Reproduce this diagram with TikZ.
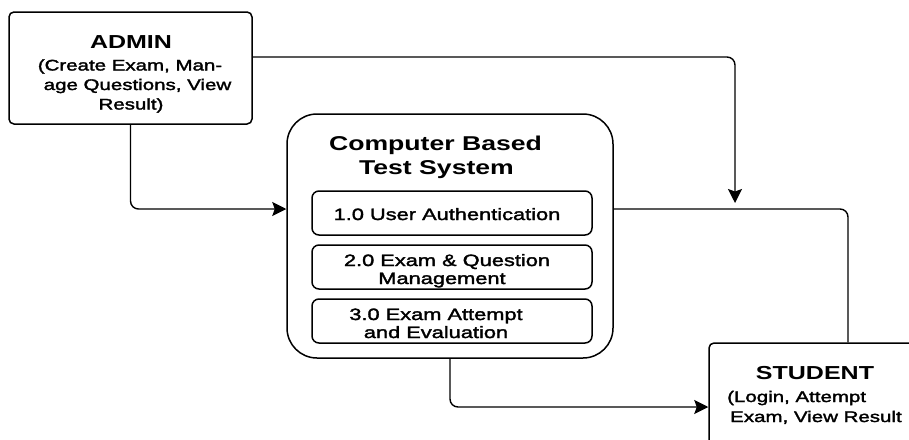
\documentclass[tikz,border=0pt]{standalone}
\usepackage{fontspec}
\setmainfont{Liberation Sans}[FakeStretch=1.33]
\newfontfamily\bodyfont{Liberation Sans}[FakeStretch=1.33,FakeBold=2]
\usetikzlibrary{arrows.meta}
\begin{document}
\begin{tikzpicture}[x=1pt,y=-1pt,
  box/.style={draw, line width=1.5pt, rounded corners=5pt, inner sep=0pt},
  subbox/.style={box, rounded corners=7pt, minimum width=280pt, minimum height=44pt},
  flow/.style={line width=1.4pt, rounded corners=8pt},
  tip/.tip={Stealth[length=14pt,width=14pt,inset=2.5pt]},
  head/.style={inner sep=0pt, anchor=base, font=\bfseries\fontsize{18.8}{20}\selectfont},
  title/.style={inner sep=0pt, anchor=base, font=\bfseries\fontsize{20}{22}\selectfont},
  body/.style={inner sep=0pt, anchor=base, font=\bodyfont\fontsize{15.4}{18}\selectfont},
  item/.style={inner sep=0pt, anchor=base, font=\bodyfont\fontsize{16.4}{18}\selectfont}]
\useasboundingbox (0,0) rectangle (909,439);
\clip (0,0) rectangle (909,439);

% external entity: admin
\node[box, minimum width=243pt, minimum height=112pt] (admin) at (130.5,68) {};
\node[head] (adminT) at (131,48) {ADMIN};
\node[body] (adminL1) at (130,70.5) {(Create Exam, Man-};
\node[body] (adminL2) at (137.5,90) {age Questions, View};
\node[body] (adminL3) at (131,109.5) {Result)};

% the system process with its sub-processes
\node[box, rounded corners=30pt, minimum width=326pt, minimum height=244pt] (cbt) at (450,236) {};
\node[title] (cbtT1) at (435.5,150) {Computer Based};
\node[title] (cbtT2) at (436.5,174) {Test System};

\node[subbox] (p1) at (452,213) {};
\node[item] (p1L) at (447,220) {1.0 User Authentication};
\node[subbox] (p2) at (452,267) {};
\node[item] (p2L1) at (447,266) {2.0 Exam \& Question};
\node[item] (p2L2) at (442,284) {Management};
\node[subbox] (p3) at (452,321) {};
\node[item] (p3L1) at (436,320) {3.0 Exam Attempt};
\node[item] (p3L2) at (436,338) {and Evaluation};

% external entity: student
\node[box, minimum width=221pt, minimum height=117pt] (student) at (819.5,401.5) {};
\node[head] (studentT) at (815,379) {STUDENT};
\node[body, anchor=base west] (studentL1) at (727,402) {(Login, Attempt};
\node[body, anchor=base west] (studentL2) at (730,422) {Exam, View Result};

% data flows
\coordinate (drop) at (735,203);
\draw[flow,-tip] ([yshift=11pt]admin.east) -| (drop);
\draw[flow,-tip] (admin.south) |- ([yshift=27pt]cbt.west);
\draw[flow] ([yshift=27pt]cbt.east) -| ([xshift=28.5pt]student.north);
\draw[flow,-tip] (cbt.south) |- ([yshift=-5.5pt]student.west);
\end{tikzpicture}
\end{document}
